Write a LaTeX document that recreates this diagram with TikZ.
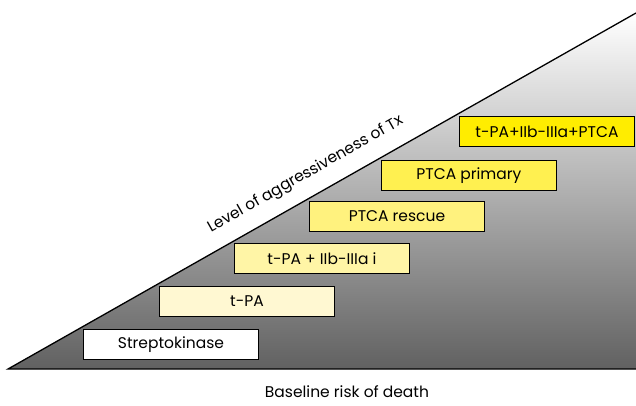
\documentclass[tikz,border=0pt]{standalone}
\usepackage{fontspec}
\setmainfont{Poppins}
\begin{document}
\begin{tikzpicture}[x=1pt,y=-1pt,
  tbox/.style={draw=black,line width=0.9pt,minimum width=175pt,minimum height=30pt,inner sep=0pt,font=\fontsize{15.5}{18}\selectfont,anchor=north west},
  lbl/.style={font=\fontsize{15.5}{18}\selectfont}]
\useasboundingbox (0,0) rectangle (636,405);
\coordinate (L) at (8,369);
\coordinate (R) at (636,369);
\coordinate (T) at (636,13);
\shade[top color=white,bottom color=black!62] (L) -- (T) -- (R) -- cycle;
\draw[line width=1.3pt] (T) -- (L) -- (R);
\definecolor{y1}{HTML}{FFF8D2}
\definecolor{y2}{HTML}{FFF5A6}
\definecolor{y3}{HTML}{FFF27E}
\definecolor{y4}{HTML}{FFF050}
\definecolor{y5}{HTML}{FFED00}
\node[tbox,fill=white] (s) at (83,329) {Streptokinase};
\node[tbox,fill=y1] (t) at (159,286) {t-PA};
\node[tbox,fill=y2] (ti) at (234,243) {t-PA + IIb-IIIa i};
\node[tbox,fill=y3] (pr) at (309,201) {PTCA rescue};
\node[tbox,fill=y4] (pp) at (381,160) {PTCA primary};
\node[tbox,fill=y5] (all) at (459,116) {t-PA+IIb-IIIa+PTCA};
\node[lbl,rotate=29.6,anchor=base] (lev) at (307.5,178) {Level of aggressiveness of Tx};
\node[lbl] (base) at (347,392) {Baseline risk of death};
\end{tikzpicture}
\end{document}
